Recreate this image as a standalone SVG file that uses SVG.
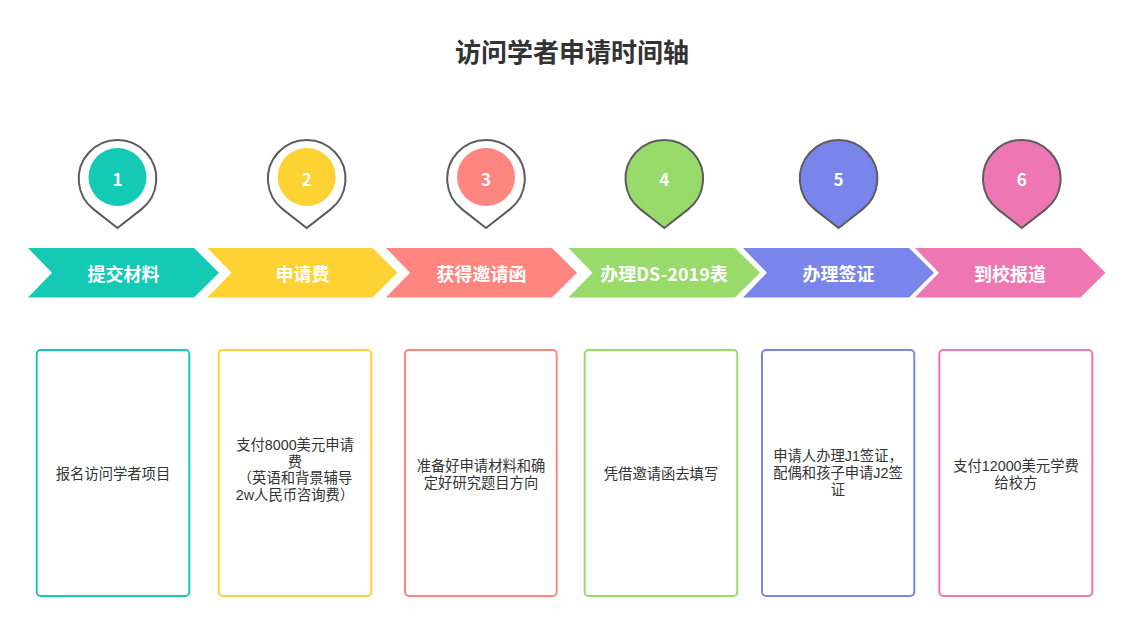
<svg xmlns="http://www.w3.org/2000/svg" width="1132" height="624" viewBox="0 0 1132 624">
<style>
text{font-family:"Noto Sans CJK SC","Noto Sans",sans-serif;}
.title{font-size:26px;font-weight:bold;fill:#333333;text-anchor:middle;dominant-baseline:central;}
.num{font-size:17px;font-weight:bold;fill:#ffffff;text-anchor:middle;dominant-baseline:central;}
.lbl{font-size:18px;font-weight:bold;fill:#ffffff;text-anchor:middle;dominant-baseline:central;}
.body{font-family:"Liberation Sans","Noto Sans CJK SC",sans-serif;font-size:14.3px;fill:#333333;text-anchor:middle;}
.pin{stroke:#5c5c5c;stroke-width:2;}
.box{fill:#ffffff;stroke-width:2;}
</style>
<rect width="1132" height="624" fill="#ffffff"/>
<text class="title" x="572" y="50">访问学者申请时间轴</text>

<g id="connectors"></g>

<g id="step1">
<path class="pin" fill="#ffffff" d="M117.5,228 L93.7,209.4 A38.8,38.8 0 1 1 141.3,209.4 Z"/>
<circle cx="117.5" cy="177" r="29" fill="#14CAB5"/>
<text class="num" x="117.5" y="178">1</text>
<polygon fill="#14CAB5" points="28,248 194,248 219,272.75 194,297.5 28,297.5 52,272.75"/>
<text class="lbl" x="123.5" y="273">提交材料</text>
<rect class="box" x="36.7" y="350" width="152.6" height="246" rx="4" stroke="#14CAB5"/>
<text class="body" x="113" y="479">报名访问学者项目</text>
</g>

<g id="step2">
<path class="pin" fill="#ffffff" d="M306.7,228 L282.9,209.4 A38.8,38.8 0 1 1 330.5,209.4 Z"/>
<circle cx="306.7" cy="177" r="29" fill="#FDD232"/>
<text class="num" x="306.7" y="178">2</text>
<polygon fill="#FDD232" points="207.5,248 372.5,248 397.5,272.75 372.5,297.5 207.5,297.5 231.5,272.75"/>
<text class="lbl" x="302.5" y="273">申请费</text>
<rect class="box" x="218.7" y="350" width="152.6" height="246" rx="4" stroke="#FDD232"/>
<text class="body" x="295" y="450">支付8000美元申请<tspan x="295" dy="16.6">费</tspan><tspan x="295" dy="16.6">（英语和背景辅导</tspan><tspan x="295" dy="16.6">2w人民币咨询费）</tspan></text>
</g>

<g id="step3">
<path class="pin" fill="#ffffff" d="M486,228 L462.2,209.4 A38.8,38.8 0 1 1 509.8,209.4 Z"/>
<circle cx="486" cy="177" r="29" fill="#FF8580"/>
<text class="num" x="486" y="178">3</text>
<polygon fill="#FF8580" points="386,248 552,248 577,272.75 552,297.5 386,297.5 410,272.75"/>
<text class="lbl" x="481.5" y="273">获得邀请函</text>
<rect class="box" x="405" y="350" width="151.7" height="246" rx="4" stroke="#FF8580"/>
<text class="body" x="481" y="471">准备好申请材料和确<tspan x="481" dy="16.8">定好研究题目方向</tspan></text>
</g>

<g id="step4">
<path class="pin" fill="#98DB6A" d="M664.3,228 L640.5,209.4 A38.8,38.8 0 1 1 688.1,209.4 Z"/>
<text class="num" x="664.3" y="178">4</text>
<polygon fill="#98DB6A" points="568.5,248 735,248 760,272.75 735,297.5 568.5,297.5 592.5,272.75"/>
<text class="lbl" x="664" y="273">办理DS-2019表</text>
<rect class="box" x="584.7" y="350" width="152.6" height="246" rx="4" stroke="#98DB6A"/>
<text class="body" x="661" y="479">凭借邀请函去填写</text>
</g>

<g id="step5">
<path class="pin" fill="#7985EB" d="M838.6,228 L814.8,209.4 A38.8,38.8 0 1 1 862.4,209.4 Z"/>
<text class="num" x="838.6" y="178">5</text>
<polygon fill="#7985EB" points="743,248 909,248 934,272.75 909,297.5 743,297.5 767,272.75"/>
<text class="lbl" x="838.5" y="273">办理签证</text>
<rect class="box" x="762" y="350" width="152.3" height="246" rx="4" stroke="#7985EB"/>
<text class="body" x="838" y="461">申请人办理J1签证，<tspan x="838" dy="17">配偶和孩子申请J2签</tspan><tspan x="838" dy="17">证</tspan></text>
</g>

<g id="step6">
<path class="pin" fill="#EE77B3" d="M1021.8,228 L998,209.4 A38.8,38.8 0 1 1 1045.6,209.4 Z"/>
<text class="num" x="1021.8" y="178">6</text>
<polygon fill="#EE77B3" points="915,248 1080.5,248 1105.5,272.75 1080.5,297.5 915,297.5 939,272.75"/>
<text class="lbl" x="1010" y="273">到校报道</text>
<rect class="box" x="939.3" y="350" width="153" height="246" rx="4" stroke="#EE77B3"/>
<text class="body" x="1016" y="471">支付12000美元学费<tspan x="1016" dy="16.5">给校方</tspan></text>
</g>
</svg>
